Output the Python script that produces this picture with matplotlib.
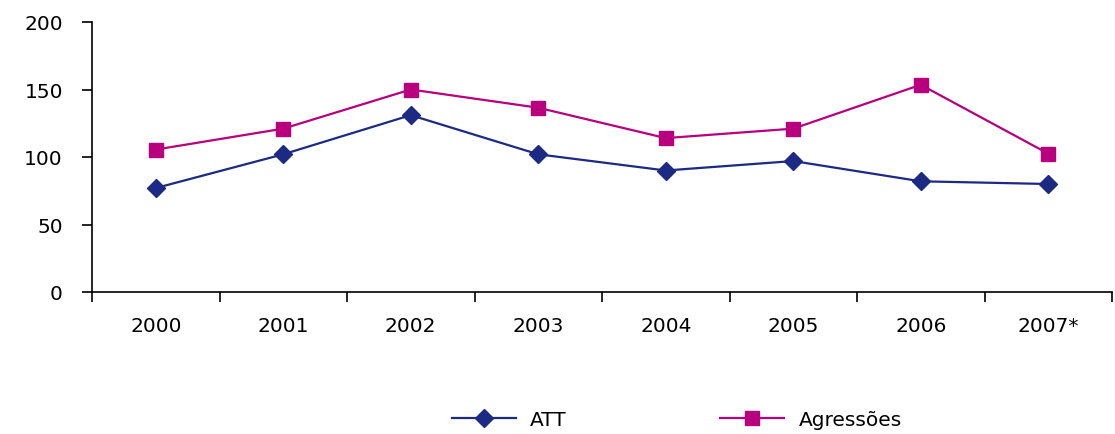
import numpy as np
import matplotlib.pyplot as plt

years = ["2000", "2001", "2002", "2003", "2004", "2005", "2006", "2007*"]
att = [77, 102, 131, 102, 90, 97, 82, 80]
agressoes = [105.5, 121, 150, 136.5, 114, 121, 153.5, 102.5]

navy = "#1c2a84"
magenta = "#b8007e"

fig = plt.figure(figsize=(11.15, 4.35), dpi=100)
ax = fig.add_axes([92 / 1115, 1 - 293 / 435, 1020 / 1115, 270 / 435])

x = np.arange(len(years))
ax.plot(x, att, color=navy, lw=1.6, marker="D", ms=9, label="ATT")
ax.plot(x, agressoes, color=magenta, lw=1.6, marker="s", ms=9.5, label="Agressões")

ax.set_xlim(-0.5, len(years) - 0.5)
ax.set_ylim(0, 200)
ax.set_yticks([0, 50, 100, 150, 200])
ax.set_xticks(np.arange(-0.5, len(years) - 0.5 + 0.01, 1.0))
ax.set_xticklabels([])
ax.set_xticks(x, minor=True)
ax.set_xticklabels(years, minor=True)
ax.tick_params(axis="x", which="major", direction="out", length=7, width=1.2)
ax.tick_params(axis="x", which="minor", length=0, pad=17, labelsize=14.5)
ax.tick_params(axis="y", direction="out", length=7, width=1.2, labelsize=14.5, pad=14)

for s in ["top", "right"]:
    ax.spines[s].set_visible(False)
for s in ["left", "bottom"]:
    ax.spines[s].set_linewidth(1.2)

fig.legend(loc="center", bbox_to_anchor=(0.607, 0.033), ncol=2, frameon=False,
           fontsize=14.5, handlelength=3.2, columnspacing=7.6, handletextpad=0.7)

fig.savefig("out.png", dpi=100)
